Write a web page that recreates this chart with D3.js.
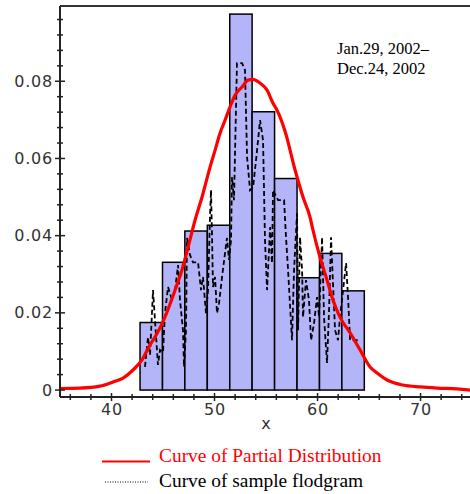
<!DOCTYPE html>
<html>
<head>
<meta charset="utf-8">
<script src="https://cdn.jsdelivr.net/npm/d3@7"></script>
<style>
  body { margin: 0; background: #fff; }
  svg { display: block; }
</style>
</head>
<body>
<div id="wrapper"></div>
<script>
// histogram bins (edges) and heights
const binEdges = [42.77, 44.95, 47.12, 49.30, 51.48, 53.65, 55.83, 58.01, 60.19, 62.36, 64.54];
const binHeights = [0.0175, 0.0331, 0.0412, 0.0427, 0.0974, 0.0721, 0.0548, 0.0291, 0.0354, 0.0257];

// red curve (partial distribution)
const curveX = [35.00, 36.94, 38.88, 40.15, 41.12, 42.09, 42.96, 43.74, 44.22, 45.19,
  46.17, 46.84, 47.43, 48.11, 48.79, 49.56, 50.05, 50.53, 51.02, 51.50,
  51.99, 52.67, 53.25, 53.74, 54.42, 55.10, 55.68, 56.07, 56.84, 57.82,
  58.59, 59.27, 59.56, 60.24, 60.92, 61.50, 62.18, 63.16, 64.13, 65.10,
  65.78, 66.75, 68.30, 69.95, 71.60, 73.54, 74.81];
const curveY = [0.0004, 0.0005, 0.0010, 0.0021, 0.0031, 0.0052, 0.0078, 0.0117, 0.0137, 0.0189,
  0.0259, 0.0311, 0.0370, 0.0440, 0.0500, 0.0577, 0.0621, 0.0665, 0.0699, 0.0733,
  0.0764, 0.0785, 0.0803, 0.0805, 0.0795, 0.0777, 0.0743, 0.0725, 0.0671, 0.0570,
  0.0500, 0.0448, 0.0414, 0.0344, 0.0285, 0.0233, 0.0189, 0.0148, 0.0104, 0.0060,
  0.0044, 0.0026, 0.0013, 0.0008, 0.0005, 0.0003, 0.0000];

// dashed curve (sample flodgram)
const sampleX = [43.25, 43.54, 43.74, 44.03, 44.22, 44.51, 44.71, 45.00, 45.19, 45.49,
  45.87, 46.17, 46.46, 46.65, 46.94, 47.04, 47.23, 47.33, 47.62, 47.91,
  48.40, 48.69, 48.88, 49.17, 49.37, 49.56, 49.66, 49.76, 49.85, 50.05,
  50.24, 50.44, 50.73, 51.02, 51.21, 51.41, 51.60, 51.70, 51.89, 52.18,
  52.67, 52.96, 53.16, 53.45, 53.74, 54.03, 54.42, 54.71, 54.90, 55.10,
  55.29, 55.39, 55.58, 55.68, 56.17, 56.75, 56.94, 57.14, 57.52, 57.72,
  58.01, 58.11, 58.30, 58.50, 58.59, 58.88, 59.17, 59.37, 59.66, 59.95,
  60.15, 60.44, 60.63, 60.92, 61.12, 61.31, 61.50, 61.70, 61.99, 62.18,
  62.48, 62.77, 62.96, 63.16, 64.03];
const sampleY = [0.0060, 0.0137, 0.0091, 0.0259, 0.0181, 0.0065, 0.0104, 0.0098, 0.0199, 0.0267,
  0.0233, 0.0259, 0.0324, 0.0233, 0.0155, 0.0060, 0.0155, 0.0394, 0.0350, 0.0331,
  0.0331, 0.0259, 0.0293, 0.0199, 0.0259, 0.0448, 0.0518, 0.0396, 0.0267, 0.0293,
  0.0199, 0.0225, 0.0293, 0.0355, 0.0394, 0.0337, 0.0388, 0.0552, 0.0492, 0.0847,
  0.0847, 0.0829, 0.0603, 0.0518, 0.0526, 0.0596, 0.0699, 0.0647, 0.0388, 0.0259,
  0.0363, 0.0422, 0.0329, 0.0518, 0.0492, 0.0492, 0.0396, 0.0311, 0.0129, 0.0311,
  0.0458, 0.0155, 0.0396, 0.0311, 0.0189, 0.0285, 0.0233, 0.0129, 0.0173, 0.0241,
  0.0189, 0.0396, 0.0189, 0.0070, 0.0207, 0.0396, 0.0277, 0.0155, 0.0129, 0.0189,
  0.0259, 0.0329, 0.0241, 0.0129, 0.0129];

const xTicks = [40, 50, 60, 70];
const xTickLabels = ["40", "50", "60", "70"];
const yTicks = [0, 0.02, 0.04, 0.06, 0.08];
const yTickLabels = ["0", "0.02", "0.04", "0.06", "0.08"];

const dimension = {
    width: 470,
    height: 494,
    margin: { top: 6, left: 60, bottom: 97, right: 0 }
};
dimension.boundedWidth = dimension.width - dimension.margin.left - dimension.margin.right;
dimension.boundedHeight = dimension.height - dimension.margin.top - dimension.margin.bottom;

const svg = d3.select("#wrapper").append("svg")
    .attr("width", dimension.width)
    .attr("height", dimension.height);

const xScaler = d3.scaleLinear()
    .domain([35, 74.8])
    .range([dimension.margin.left, dimension.width]);
const yScaler = d3.scaleLinear()
    .domain([-0.0018, 0.0995])
    .range([dimension.margin.top + dimension.boundedHeight, dimension.margin.top]);

const axisY = yScaler.range()[0];
const left = dimension.margin.left;

// bars
svg.append("g")
    .selectAll("rect")
    .data(binHeights)
    .join("rect")
    .attr("x", (d, i) => xScaler(binEdges[i]))
    .attr("width", (d, i) => xScaler(binEdges[i + 1]) - xScaler(binEdges[i]))
    .attr("y", d => yScaler(d))
    .attr("height", d => yScaler(0) - yScaler(d))
    .attr("fill", "#b4b4f8")
    .attr("stroke", "#000")
    .attr("stroke-width", 1.5);

// sample flodgram
const sample = sampleX.map((x, i) => [x, sampleY[i]]);
const lineGenerator = d3.line()
    .x(d => xScaler(d[0]))
    .y(d => yScaler(d[1]));
svg.append("path")
    .attr("d", lineGenerator(sample))
    .attr("fill", "none")
    .attr("stroke", "#000")
    .attr("stroke-width", 1.8)
    .attr("stroke-dasharray", "5,3");

// partial distribution
const curve = curveX.map((x, i) => [x, curveY[i]]);
svg.append("path")
    .attr("d", lineGenerator.curve(d3.curveMonotoneX)(curve))
    .attr("fill", "none")
    .attr("stroke", "#ff0000")
    .attr("stroke-width", 3.2);

// frame: top line + axes lines
svg.append("line")
    .attr("x1", left).attr("x2", dimension.width)
    .attr("y1", dimension.margin.top).attr("y2", dimension.margin.top)
    .attr("stroke", "#333").attr("stroke-width", 2);
svg.append("line")
    .attr("x1", left).attr("x2", left)
    .attr("y1", dimension.margin.top).attr("y2", axisY)
    .attr("stroke", "#222").attr("stroke-width", 2);
svg.append("line")
    .attr("x1", left).attr("x2", dimension.width)
    .attr("y1", axisY).attr("y2", axisY)
    .attr("stroke", "#222").attr("stroke-width", 2);

// y ticks (crossing the axis)
const yMinor = d3.range(0.004, 0.0961, 0.004).filter(v => Math.abs(v / 0.02 - Math.round(v / 0.02)) > 1e-6);
svg.append("g").selectAll("line").data(yMinor).join("line")
    .attr("x1", left - 3).attr("x2", left + 3)
    .attr("y1", d => yScaler(d)).attr("y2", d => yScaler(d))
    .attr("stroke", "#222").attr("stroke-width", 1.5);
svg.append("g").selectAll("line").data(yTicks).join("line")
    .attr("x1", left - 5).attr("x2", left + 5)
    .attr("y1", d => yScaler(d)).attr("y2", d => yScaler(d))
    .attr("stroke", "#222").attr("stroke-width", 1.5);

const yAxis = d3.axisLeft(yScaler)
    .tickValues(yTicks)
    .tickFormat((d, i) => yTickLabels[i])
    .tickSize(0)
    .tickPadding(7);
const gy = svg.append("g")
    .attr("transform", `translate(${left},0)`)
    .call(yAxis);
gy.select(".domain").remove();
gy.selectAll("text")
    .attr("font-family", "DejaVu Sans, sans-serif")
    .attr("font-size", 16)
    .attr("letter-spacing", 0.8)
    .attr("fill", "#333");

// x ticks
const xMinor = d3.range(36, 75, 2).filter(v => v % 10 !== 0);
svg.append("g").selectAll("line").data(xMinor).join("line")
    .attr("x1", d => xScaler(d)).attr("x2", d => xScaler(d))
    .attr("y1", axisY - 3).attr("y2", axisY + 3)
    .attr("stroke", "#222").attr("stroke-width", 1.5);
svg.append("g").selectAll("line").data(xTicks).join("line")
    .attr("x1", d => xScaler(d)).attr("x2", d => xScaler(d))
    .attr("y1", axisY - 4).attr("y2", axisY + 4)
    .attr("stroke", "#222").attr("stroke-width", 1.5);

const xAxis = d3.axisBottom(xScaler)
    .tickValues(xTicks)
    .tickFormat((d, i) => xTickLabels[i])
    .tickSize(0)
    .tickPadding(7);
const gx = svg.append("g")
    .attr("transform", `translate(0,${axisY})`)
    .call(xAxis);
gx.select(".domain").remove();
gx.selectAll("text")
    .attr("font-family", "DejaVu Sans, sans-serif")
    .attr("font-size", 16)
    .attr("letter-spacing", 0.8)
    .attr("fill", "#333");

svg.append("text")
    .attr("x", 266).attr("y", 429)
    .attr("text-anchor", "middle")
    .attr("font-family", "DejaVu Sans, sans-serif")
    .attr("font-size", 16)
    .attr("fill", "#333")
    .text("x");

// date annotation
const note = svg.append("text")
    .attr("font-family", "Liberation Serif, Times New Roman, serif")
    .attr("font-size", 16.5)
    .attr("fill", "#000");
note.append("tspan").attr("x", 337).attr("y", 54).text("Jan.29, 2002–");
note.append("tspan").attr("x", 337).attr("y", 74).text("Dec.24, 2002");

// legend
svg.append("line")
    .attr("x1", 102).attr("x2", 150).attr("y1", 461.5).attr("y2", 461.5)
    .attr("stroke", "#ff0000").attr("stroke-width", 2);
svg.append("text")
    .attr("x", 159).attr("y", 462)
    .attr("font-family", "Liberation Serif, Times New Roman, serif")
    .attr("font-size", 19.4)
    .attr("fill", "#ff0000")
    .text("Curve of Partial Distribution");
svg.append("line")
    .attr("x1", 105).attr("x2", 148).attr("y1", 482).attr("y2", 482)
    .attr("stroke", "#000").attr("stroke-width", 1)
    .attr("stroke-dasharray", "1,1.5");
svg.append("text")
    .attr("x", 159).attr("y", 487)
    .attr("font-family", "Liberation Serif, Times New Roman, serif")
    .attr("font-size", 19.4)
    .attr("fill", "#000")
    .text("Curve of sample flodgram");
</script>
</body>
</html>
